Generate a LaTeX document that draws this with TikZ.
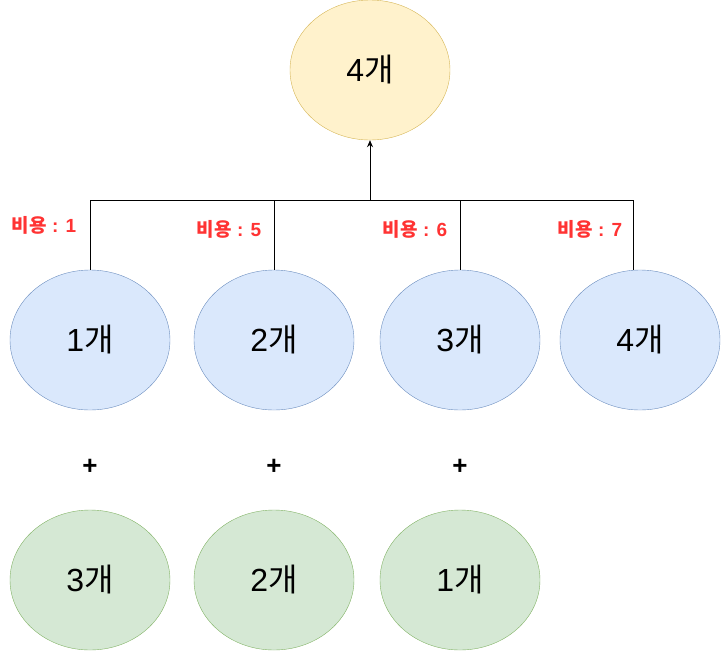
\documentclass[tikz,border=0pt]{standalone}
\usepackage{fontspec}
\setmainfont{Liberation Sans}
\newfontfamily\kr{Noto Sans CJK KR}
\usetikzlibrary{arrows.meta,shapes.geometric}
\definecolor{yfill}{HTML}{FFF2CC}
\definecolor{ydraw}{HTML}{D6B656}
\definecolor{bfill}{HTML}{DAE8FC}
\definecolor{bdraw}{HTML}{6C8EBF}
\definecolor{gfill}{HTML}{D5E8D4}
\definecolor{gdraw}{HTML}{82B366}
\definecolor{costred}{HTML}{FF3333}
\newcommand\gae[1]{#1{\kr 개}}
\newcommand\costtxt[1]{{\kr 비용} : #1}
\tikzset{
  blob/.style={ellipse, minimum width=160pt, minimum height=140pt, inner sep=0pt, font=\fontsize{32}{36}\selectfont},
  topblob/.style={blob, fill=yfill, draw=ydraw},
  midblob/.style={blob, fill=bfill, draw=bdraw},
  botblob/.style={blob, fill=gfill, draw=gdraw},
  cost/.style={text=costred, font=\bfseries\fontsize{19}{22}\selectfont},
  plus/.style={font=\bfseries\fontsize{26}{28}\selectfont},
  wire/.style={draw=black, line width=0.9pt}
}
\begin{document}
\begin{tikzpicture}[x=1pt,y=-1pt]
\useasboundingbox (0,0) rectangle (721,651);
\node[topblob] (top) at (370,70) {\gae{4}};
\node[midblob] (m1) at (90,340) {\gae{1}};
\node[midblob] (m2) at (274,340) {\gae{2}};
\node[midblob] (m3) at (460,340) {\gae{3}};
\node[midblob] (m4) at (640,340) {\gae{4}};
\node[botblob] (b1) at (90,580) {\gae{3}};
\node[botblob] (b2) at (274,580) {\gae{2}};
\node[botblob] (b3) at (460,580) {\gae{1}};
\node[cost] (c1) at (44,225) {\costtxt{1}};
\node[cost] (c2) at (229,229) {\costtxt{5}};
\node[cost] (c3) at (415,229) {\costtxt{6}};
\node[cost] (c4) at (590,229) {\costtxt{7}};
\node[plus] (p1) at (90,467) {+};
\node[plus] (p2) at (274,467) {+};
\node[plus] (p3) at (460,467) {+};
\coordinate (bl) at (90,200);
\coordinate (br) at (633,200);
\coordinate (bm) at (370,200);
\draw[wire] (m1.north) |- (bl) -- (br) -- (br |- m4.north);
\draw[wire] (m2.north) -- (m2.north |- bl);
\draw[wire] (m3.north) -- (m3.north |- bl);
\draw[wire, -{Stealth[length=7pt,width=6pt]}] (bm) -- (top.south);
\end{tikzpicture}
\end{document}
